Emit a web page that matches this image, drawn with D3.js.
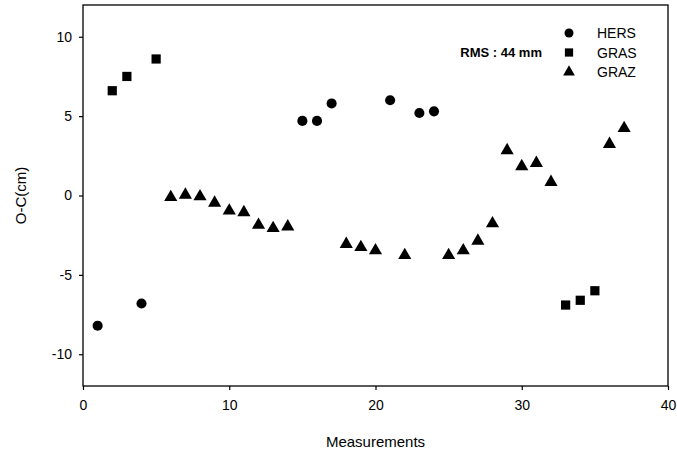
<!DOCTYPE html>
<html>
<head>
<meta charset="utf-8">
<script src="https://cdn.jsdelivr.net/npm/d3@7"></script>
<style>
  body { margin: 0; background: #fff; }
  text { font-family: "Liberation Sans", Arial, sans-serif; fill: #000; }
</style>
</head>
<body>
<div id="chart"></div>
<script>
// Data
const hersX = [1, 4, 15, 16, 17, 21, 23, 24];
const hersY = [-8.2, -6.8, 4.7, 4.7, 5.8, 6.0, 5.2, 5.3];
const grasX = [2, 3, 5, 33, 34, 35];
const grasY = [6.6, 7.5, 8.6, -6.9, -6.6, -6.0];
const grazX = [6, 7, 8, 9, 10, 11, 12, 13, 14, 18, 19, 20, 22, 25, 26, 27, 28, 29, 30, 31, 32, 36, 37];
const grazY = [-0.05, 0.1, 0.0, -0.4, -0.9, -1.0, -1.8, -2.0, -1.9, -3.0, -3.2, -3.4, -3.7, -3.7, -3.4, -2.8, -1.7, 2.9, 1.9, 2.1, 0.9, 3.3, 4.3];
const xTicks = [0, 10, 20, 30, 40];
const yTicks = [-10, -5, 0, 5, 10];
const seriesNames = ["HERS", "GRAS", "GRAZ"];

// Dimensions
let w = 677, h = 454;
let margin = { left: 83, right: 9, top: 5, bottom: 68 };

let svg = d3.select("#chart").append("svg").attr("width", w).attr("height", h);

let x = d3.scaleLinear().domain([0, 40]).range([margin.left, w - margin.right]);
let y = d3.scaleLinear().domain([-12, 12]).range([h - margin.bottom, margin.top]);

// Frame
svg.append("rect")
  .attr("x", x(0)).attr("y", y(12))
  .attr("width", x(40) - x(0)).attr("height", y(-12) - y(12))
  .attr("fill", "none").attr("stroke", "#000").attr("stroke-width", 1.3);

// Axes (plain hyphen for negatives, like the original)
let fmt = (d) => String(d);
let xAxis = svg.append("g").attr("transform", "translate(0," + y(-12) + ")")
  .call(d3.axisBottom(x).tickValues(xTicks).tickSize(4).tickPadding(10).tickFormat(fmt));
let yAxis = svg.append("g").attr("transform", "translate(" + x(0) + ",0)")
  .call(d3.axisLeft(y).tickValues(yTicks).tickSize(4).tickPadding(6).tickFormat(fmt));
[xAxis, yAxis].forEach((g) => {
  g.select(".domain").remove();
  g.selectAll("line").attr("stroke", "#000").attr("stroke-width", 1.2);
  g.selectAll("text").style("font-size", "14px").style("font-family", "Liberation Sans, Arial, sans-serif");
});
yAxis.selectAll("text").attr("dx", "-1");

// Axis titles
svg.append("text").attr("x", x(20)).attr("y", 447).attr("text-anchor", "middle")
  .style("font-size", "15px").text("Measurements");
svg.append("text").attr("transform", "translate(26," + y(0) + ") rotate(-90)")
  .attr("text-anchor", "middle").style("font-size", "15px").text("O-C(cm)");

// Marker symbols
let symbols = [d3.symbolCircle, d3.symbolSquare, d3.symbolTriangle];
let sizes = [80, 85, 75];
let allX = [hersX, grasX, grazX], allY = [hersY, grasY, grazY];

for (let s = 0; s < 3; s++) {
  let pts = allX[s].map((v, i) => [v, allY[s][i]]);
  svg.selectAll("path.s" + s).data(pts).enter().append("path")
    .attr("class", "s" + s)
    .attr("d", d3.symbol().type(symbols[s]).size(sizes[s]))
    .attr("transform", (d) => "translate(" + x(d[0]) + "," + (y(d[1]) + (s == 2 ? 1 : 0)) + ")")
    .attr("fill", "#000");
}

// Legend
for (let i = 0; i < seriesNames.length; i++) {
  let ly = 33 + i * 19.5;
  svg.append("path").attr("d", d3.symbol().type(symbols[i]).size(sizes[i] * 0.8)())
    .attr("transform", "translate(569," + ly + ")").attr("fill", "#000");
  svg.append("text").attr("x", 597).attr("y", ly + 5).style("font-size", "14px").text(seriesNames[i]);
}
svg.append("text").attr("x", 542).attr("y", 57).attr("text-anchor", "end")
  .style("font-size", "13px").style("font-weight", "bold").text("RMS : 44 mm");
</script>
</body>
</html>
